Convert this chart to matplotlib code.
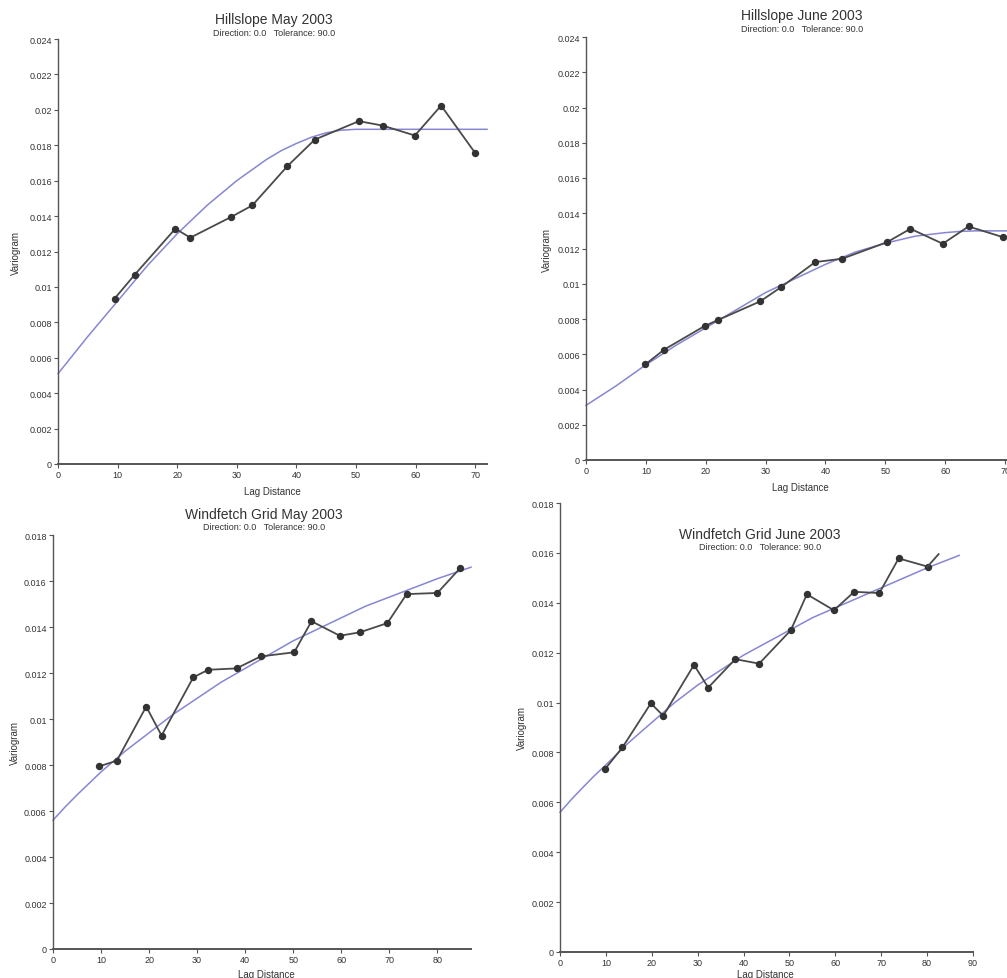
import numpy as np
import matplotlib
matplotlib.use("Agg")
import matplotlib.pyplot as plt
from matplotlib.ticker import FuncFormatter

plt.rcParams['font.family'] = ['Liberation Sans', 'DejaVu Sans']

# Hillslope May 2003
hill_may_lag = [9.5, 12.9, 19.7, 22.2, 29.0, 32.6, 38.5, 43.1, 50.5, 54.5, 59.9, 64.3, 70.0]
hill_may_gamma = [0.00934, 0.0107, 0.01329, 0.01278, 0.01394, 0.0146, 0.01682, 0.01832,
                  0.01936, 0.01911, 0.01855, 0.02024, 0.01757]
hill_may_model_lag = [0, 5, 10, 15, 20, 25, 30, 35, 37.5, 40, 42.5, 45, 47.5, 50, 72]
hill_may_model = [0.0051, 0.0072, 0.0092, 0.0112, 0.0130, 0.0146, 0.0160, 0.0172, 0.0177,
                  0.0181, 0.01845, 0.0187, 0.01885, 0.0189, 0.0189]

# Hillslope June 2003
hill_jun_lag = [9.9, 13.0, 19.8, 22.1, 29.1, 32.6, 38.3, 42.8, 50.3, 54.2, 59.6, 63.9, 69.6]
hill_jun_gamma = [0.00542, 0.00625, 0.0076, 0.00795, 0.0090, 0.00981, 0.01123, 0.01142,
                  0.01236, 0.01312, 0.01227, 0.01325, 0.01265]
hill_jun_model_lag = [0, 5, 10, 15, 20, 25, 30, 35, 40, 45, 50, 55, 57.5, 60, 62.5, 65, 72]
hill_jun_model = [0.0031, 0.0042, 0.0054, 0.0065, 0.0075, 0.0085, 0.0095, 0.0103,
                  0.0111, 0.0118, 0.0123, 0.0127, 0.0128, 0.0129, 0.01297, 0.0130, 0.0130]

# Windfetch Grid May 2003
wind_may_lag = [9.6, 13.3, 19.4, 22.6, 29.2, 32.3, 38.2, 43.2, 50.2, 53.8, 59.7, 63.9,
                69.6, 73.6, 80.0, 84.7]
wind_may_gamma = [0.00794, 0.00819, 0.01054, 0.00928, 0.01181, 0.01214, 0.0122, 0.01272,
                  0.0129, 0.01425, 0.01362, 0.01377, 0.01417, 0.01543, 0.01548, 0.01655]
wind_may_model_lag = [0, 2.5, 5, 7.5, 10, 15, 20, 25, 30, 35, 40, 45, 50, 55, 60, 65, 70,
                      75, 80, 87]
wind_may_model = [0.0056, 0.00617, 0.0067, 0.0072, 0.0077, 0.0086, 0.0094, 0.0102, 0.0109,
                  0.0116, 0.0122, 0.0128, 0.0134, 0.0139, 0.0144, 0.0149, 0.0153, 0.0157,
                  0.0161, 0.0166]

# Windfetch Grid June 2003
wind_jun_lag = [9.8, 13.6, 19.8, 22.5, 29.2, 32.3, 38.2, 43.4, 50.3, 53.8, 59.7, 64.1,
                69.6, 73.8, 80.1]
wind_jun_gamma = [0.00733, 0.0082, 0.00997, 0.00947, 0.01151, 0.0106, 0.01174, 0.01156,
                  0.0129, 0.01434, 0.0137, 0.01444, 0.01439, 0.01578, 0.01545]
wind_jun_tail_lag = [80.1, 82.5]
wind_jun_tail_gamma = [0.01545, 0.01595]
wind_jun_model_lag = [0, 2.5, 5, 7.5, 10, 15, 20, 25, 30, 35, 40, 45, 50, 55, 60, 65, 70,
                      75, 80, 87]
wind_jun_model = [0.0056, 0.00612, 0.0066, 0.00707, 0.0075, 0.0084, 0.0092, 0.0100, 0.0107,
                  0.0113, 0.0119, 0.0124, 0.0129, 0.0134, 0.0138, 0.0142, 0.0146, 0.0150,
                  0.0154, 0.0159]

W, H = 1007, 979
txt = '#333333'
data_col = '#4a4a4a'
model_col = '#8686d4'

fig = plt.figure(figsize=(W / 100, H / 100), dpi=100)
fig.patch.set_facecolor('white')


def make_axes(left, top, right, bottom, xmax, ymax, xticks, yticks):
    ax = fig.add_axes([left / W, 1 - bottom / H, (right - left) / W, (bottom - top) / H])
    ax.set_xlim(0, xmax)
    ax.set_ylim(0, ymax)
    for s in ['top', 'right']:
        ax.spines[s].set_visible(False)
    ax.spines['left'].set_color('#555555')
    ax.spines['bottom'].set_color('#555555')
    ax.spines['left'].set_linewidth(1.0)
    ax.spines['bottom'].set_linewidth(1.4)
    ax.set_xticks(xticks)
    ax.set_yticks(yticks)
    ax.yaxis.set_major_formatter(FuncFormatter(lambda v, p: f"{round(v, 4):g}"))
    ax.tick_params(direction='out', length=3, width=0.8, colors='#555555',
                   labelcolor=txt, labelsize=6.5, pad=1.5)
    ax.set_xlabel('Lag Distance', fontsize=7, color=txt, va='center')
    ax.set_ylabel('Variogram', fontsize=7, color=txt, va='center')
    return ax


def label_pos(ax, box, xl, yl):
    left, top, right, bottom = box
    ax.xaxis.set_label_coords((xl[0] - left) / (right - left), (bottom - xl[1]) / (bottom - top))
    ax.yaxis.set_label_coords((yl[0] - left) / (right - left), (bottom - yl[1]) / (bottom - top))


def titles(x, y, name):
    fig.text(x / W, 1 - y / H, name, fontsize=10, color=txt, ha='center', va='center')
    fig.text(x / W, 1 - (y + 13) / H, 'Direction: 0.0   Tolerance: 90.0', fontsize=6.5,
             color=txt, ha='center', va='center')


def draw(ax, lag, gamma, mlag, mgamma):
    ax.plot(mlag, mgamma, color=model_col, lw=1.1, zorder=2, clip_on=False)
    ax.plot(lag, gamma, color=data_col, lw=1.3, marker='o', ms=4.3,
            mfc='#333333', mec='#333333', zorder=3, clip_on=False)


yt24 = np.arange(0, 0.0241, 0.002)
yt18 = np.arange(0, 0.0181, 0.002)

# top left
box1 = (58, 40, 487, 465)
ax1 = make_axes(*box1, 72, 0.024, range(0, 71, 10), yt24)
draw(ax1, hill_may_lag, hill_may_gamma, hill_may_model_lag, hill_may_model)
label_pos(ax1, box1, (272, 492), (16, 253))
titles(274, 20, 'Hillslope May 2003')

# top right (cut by the picture edge, as in the original)
box2 = (586, 38, 1017, 461)
ax2 = make_axes(*box2, 72, 0.024, range(0, 71, 10), yt24)
draw(ax2, hill_jun_lag, hill_jun_gamma, hill_jun_model_lag, hill_jun_model)
label_pos(ax2, box2, (800, 488), (547, 250))
titles(802, 16, 'Hillslope June 2003')

# bottom left
box3 = (53, 536, 471, 950)
ax3 = make_axes(*box3, 87, 0.018, range(0, 81, 10), yt18)
draw(ax3, wind_may_lag, wind_may_gamma, wind_may_model_lag, wind_may_model)
label_pos(ax3, box3, (266, 975), (15, 743))
titles(264, 515, 'Windfetch Grid May 2003')

# bottom right
box4 = (560, 504, 973, 953)
ax4 = make_axes(*box4, 90, 0.018, range(0, 91, 10), yt18)
draw(ax4, wind_jun_lag, wind_jun_gamma, wind_jun_model_lag, wind_jun_model)
ax4.plot(wind_jun_tail_lag, wind_jun_tail_gamma, color=data_col, lw=1.3, zorder=3)
label_pos(ax4, box4, (765, 975), (522, 728))
titles(760, 535, 'Windfetch Grid June 2003')

fig.savefig('out.png', dpi=100, facecolor='white')
